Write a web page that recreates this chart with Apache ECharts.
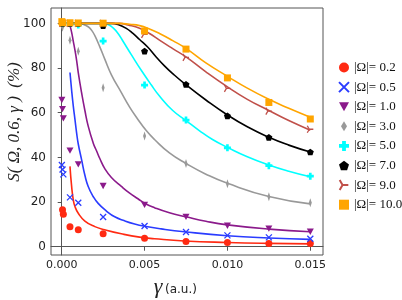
<!DOCTYPE html>
<html>
<head>
<meta charset="utf-8">
<script src="https://cdn.jsdelivr.net/npm/echarts@6/dist/echarts.min.js"></script>
<style>html,body{margin:0;padding:0;background:#fff}#c{width:402px;height:300px}</style>
</head>
<body>
<div id="c"></div>
<script>
// ---- data ----
const legendNames = ['|Ω|= 0.2','|Ω|= 0.5','|Ω|= 1.0','|Ω|= 3.0','|Ω|= 5.0','|Ω|= 7.0','|Ω|= 9.0','|Ω|= 10.0'];
const xTicks = [0, 0.005, 0.010, 0.015];
const yTicks = [0, 20, 40, 60, 80, 100];

const ptsRed    = [[0.00005,16.6],[0.0001,14.6],[0.0005,9.0],[0.001,7.6],[0.0025,5.8],[0.005,3.8],[0.0075,2.4],[0.01,1.9],[0.0125,1.5],[0.015,1.4]];
const ptsBlue   = [[0.00001,36.6],[0.00005,34.6],[0.0001,32.4],[0.0005,22.1],[0.001,19.7],[0.0025,13.3],[0.005,9.3],[0.0075,6.6],[0.01,5.1],[0.0125,4.2],[0.015,3.6]];
const ptsPurple = [[0.00001,65.7],[0.00005,61.6],[0.0001,57.5],[0.0005,43.0],[0.001,36.9],[0.0025,27.2],[0.005,18.7],[0.0075,13.4],[0.01,9.4],[0.0125,8.1],[0.015,6.7]];
const ptsGray   = [[0.00005,98.3],[0.0005,92.5],[0.001,87.5],[0.0025,71.2],[0.005,49.6],[0.0075,37.3],[0.01,28.2],[0.0125,22.4],[0.015,19.7]];
const ptsCyan   = [[0.00005,100],[0.0005,100],[0.001,99.3],[0.0025,92.1],[0.005,72.4],[0.0075,56.7],[0.01,44.3],[0.0125,36.3],[0.015,31.6]];
const ptsBlack  = [[0.00005,100],[0.0005,100],[0.001,100],[0.0025,99.0],[0.005,87.6],[0.0075,72.7],[0.01,58.6],[0.0125,49.0],[0.015,42.4]];
const ptsBrown  = [[0.00005,100],[0.0005,100],[0.001,100],[0.0025,100],[0.005,95.1],[0.0075,84.8],[0.01,70.9],[0.0125,60.7],[0.015,52.6]];
const ptsOrange = [[0.00001,100.8],[0.00005,100.3],[0.0005,100.3],[0.001,100.2],[0.0025,100.1],[0.005,96.6],[0.0075,88.5],[0.01,75.6],[0.0125,64.6],[0.015,57.2]];

const fitRed    = [[0.0005,36],[0.0006,27],[0.0007,21],[0.0008,18],[0.001,15],[0.0014,11.5],[0.002,9],[0.0026,7.6],[0.0036,5.8],[0.0047,4.3],[0.0056,3.6],[0.0074,2.6],[0.01,1.9],[0.0125,1.5],[0.015,1.3]];
const fitBlue   = [[0.0005,78],[0.0006,70],[0.0007,63],[0.0008,57],[0.0009,51],[0.001,46],[0.0012,39],[0.0014,32],[0.0016,27],[0.0019,22.5],[0.0022,19.4],[0.0027,16],[0.0032,13.4],[0.0038,11.6],[0.0044,10.2],[0.005,9.2],[0.006,8],[0.0074,6.7],[0.01,4.9],[0.0125,3.9],[0.015,3.3]];
const fitPurple = [[0.0005,99],[0.0006,96],[0.0007,92],[0.0008,88],[0.0009,83.5],[0.001,78],[0.0012,69],[0.0014,61],[0.0016,54],[0.0019,46.5],[0.0021,43],[0.0023,39.5],[0.0026,35],[0.003,31],[0.0036,27],[0.0041,24],[0.0046,21.5],[0.005,19.5],[0.0056,17.5],[0.0065,15.2],[0.0075,13.4],[0.0087,11.4],[0.01,9.8],[0.0125,7.9],[0.015,6.7]];
const fitGray   = [[0.0005,100],[0.001,100],[0.0013,99.6],[0.0016,98.5],[0.0018,97],[0.002,94.5],[0.0023,89.5],[0.0026,84],[0.003,77],[0.0036,69],[0.0041,62.5],[0.0046,57],[0.0051,52],[0.0056,48],[0.0065,42],[0.0075,37.3],[0.0087,32.5],[0.01,28.4],[0.0125,22.5],[0.015,19.2]];
const fitCyan   = [[0.0005,100],[0.0025,100],[0.0028,99.5],[0.0031,98],[0.0034,95.5],[0.0037,92],[0.0042,86],[0.0048,79],[0.0054,72.5],[0.0059,67.5],[0.0067,61],[0.0075,56.5],[0.0083,52],[0.0091,48],[0.01,44.5],[0.0112,40.3],[0.0125,36.6],[0.0137,33.8],[0.015,31.3]];
const fitBlack  = [[0.0005,100],[0.003,100],[0.0034,99.5],[0.0039,97.8],[0.0043,95.5],[0.0047,92.8],[0.0052,89.3],[0.0057,85],[0.0062,81],[0.0067,77.5],[0.0075,72.5],[0.0087,65.7],[0.01,59],[0.0112,53.7],[0.0125,49],[0.0137,45.5],[0.015,42.4]];
const fitBrown  = [[0.0005,100],[0.0035,100],[0.004,99.3],[0.0047,97.8],[0.0053,95.5],[0.0059,92.5],[0.0067,88.7],[0.0075,85],[0.0087,78.3],[0.01,71.6],[0.0112,66],[0.0125,61],[0.0137,56.5],[0.015,52.2]];
const fitOrange = [[0.0005,100],[0.0035,100],[0.0041,99.6],[0.0047,99],[0.0053,97.5],[0.0059,95.5],[0.0067,92.3],[0.0075,88.8],[0.0087,82.3],[0.01,76.3],[0.0112,71],[0.0125,66],[0.0137,62],[0.015,58]];

// ---- styles ----
const colors = ['#ff2a12','#2a3cff','#8b1a8b','#999999','#00ffff','#000000','#c0504a','#ffa500'];
const symbols = [
  'circle',
  'path://M0,0 L10,10 M0,10 L10,0',
  'path://M-1,-0.9 L1,-0.9 L0,0.9 Z',
  'path://M0,-1 L0.6,0 L0,1 L-0.6,0 Z',
  'path://M-1,-0.38 L-0.38,-0.38 L-0.38,-1 L0.38,-1 L0.38,-0.38 L1,-0.38 L1,0.38 L0.38,0.38 L0.38,1 L-0.38,1 L-0.38,0.38 L-1,0.38 Z',
  'path://M0,-1 L0.951,-0.309 L0.588,0.809 L-0.588,0.809 L-0.951,-0.309 Z',
  'path://M5,5 L10,5 M5,5 L2.5,0.67 M5,5 L2.5,9.33',
  'rect'
];
const sizes = [7, 6, 7, [5,9], 7, 7, 7, 7];
const strokeOnly = [false, true, false, false, false, false, true, false];
const pts = [ptsRed, ptsBlue, ptsPurple, ptsGray, ptsCyan, ptsBlack, ptsBrown, ptsOrange];
const fits = [fitRed, fitBlue, fitPurple, fitGray, fitCyan, fitBlack, fitBrown, fitOrange];

const series = [];
fits.forEach((f, i) => {
  series.push({
    type: 'line', data: f, showSymbol: false, symbol: 'none', smooth: true,
    lineStyle: { color: colors[i], width: 1.6 }, z: 2, silent: true
  });
});
pts.forEach((p, i) => {
  series.push({
    type: 'scatter', name: legendNames[i], data: p,
    symbol: symbols[i], symbolSize: sizes[i], symbolKeepAspect: true,
    itemStyle: strokeOnly[i]
      ? { color: 'rgba(0,0,0,0)', borderColor: colors[i], borderWidth: 1.3, opacity: 1 }
      : { color: colors[i], opacity: 1 },
    z: 5
  });
});

const chart = echarts.init(document.getElementById('c'), null, { renderer: 'canvas' });
chart.setOption({
  animation: false,
  backgroundColor: '#fff',
  grid: { left: 51, right: 79, top: 8, bottom: 45, show: true, borderColor: '#555', borderWidth: 1 },
  xAxis: {
    type: 'value', min: -0.000645, max: 0.015766,
    axisLine: { show: true, lineStyle: { color: '#555' } },
    axisTick: { show: true, inside: false, length: 4, customValues: xTicks, lineStyle: { color: '#555' } },
    axisLabel: { customValues: xTicks, formatter: v => v.toFixed(3), fontFamily: 'DejaVu Sans', fontSize: 11, color: '#222', margin: 5 },
    splitLine: { show: false }
  },
  yAxis: {
    type: 'value', min: -3.7, max: 106.9,
    axisLine: { show: true, lineStyle: { color: '#555' } },
    axisTick: { show: true, inside: false, length: 4, customValues: yTicks, lineStyle: { color: '#555' } },
    axisLabel: { customValues: yTicks, fontFamily: 'DejaVu Sans', fontSize: 12, color: '#222', margin: 5 },
    splitLine: { show: false }
  },
  legend: {
    orient: 'vertical', left: 333, top: 56, itemWidth: 10, itemHeight: 10, itemGap: 6.6,
    data: legendNames,
    textStyle: { fontFamily: 'Liberation Serif', fontSize: 13, color: '#111' }
  },
  graphic: [
    { type: 'text', x: 15, y: 122, rotation: Math.PI / 2,
      style: { text: 'S( Ω, 0.6, γ )  (%)', font: 'italic 17px "Liberation Serif"', fill: '#222', align: 'center', verticalAlign: 'middle' } },
    { type: 'text', x: 158, y: 287,
      style: { text: 'γ', font: 'italic 22px "Liberation Serif"', fill: '#222', align: 'center', verticalAlign: 'middle' } },
    { type: 'text', x: 165, y: 290,
      style: { text: '(a.u.)', font: '12px "DejaVu Sans"', fill: '#222', align: 'left', verticalAlign: 'middle' } }
  ],
  series: series
});
</script>
</body>
</html>
